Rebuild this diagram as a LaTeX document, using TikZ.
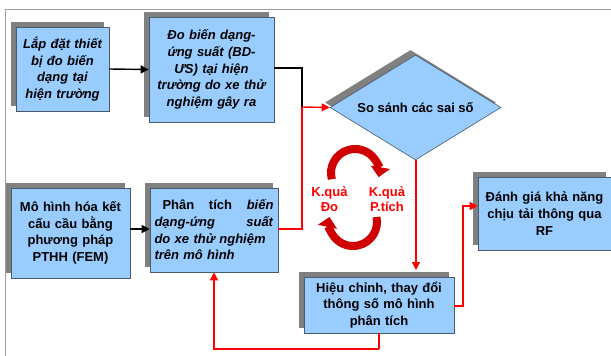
\documentclass[tikz,border=0pt]{standalone}
\usepackage{fontspec}
\setmainfont{Liberation Sans}
\usetikzlibrary{shapes.geometric,shadows,arrows.meta}
\definecolor{boxblue}{HTML}{99CCFF}
\definecolor{shadowgray}{HTML}{808080}
\definecolor{edgegray}{HTML}{4A5A6A}
\definecolor{framegray}{HTML}{A0A0A0}
\definecolor{arrred}{HTML}{D00000}
\begin{document}
\begin{tikzpicture}[x=1pt,y=-1pt,
  box/.style={draw=edgegray, line width=0.6pt, fill=boxblue, align=center,
    font=\bfseries\fontsize{13}{16.7}\selectfont, inner sep=2pt,
    drop shadow={shadow xshift=-5pt, shadow yshift=5pt, opacity=1, fill=shadowgray}},
  dia/.style={box, diamond, shape aspect=1.63, inner sep=0pt},
  blk/.style={draw=black, line width=1.4pt, -{Triangle[length=8pt,width=8pt]}},
  redl/.style={draw=red, line width=1.4pt},
  reda/.style={redl, -{Triangle[length=8pt,width=8pt]}},
  circarr/.style={draw=arrred, line width=8pt, -{Triangle[length=10pt,width=19pt]}},
  lab/.style={text=red, align=center, font=\bfseries\fontsize{13}{15.5}\selectfont}
]
\useasboundingbox (0,0) rectangle (611,356);
\fill[white] (0,0) rectangle (611,356);
\draw[framegray, line width=1pt] (5,356) -- (5,9) -- (611,9);

\node[box, minimum width=91pt, minimum height=84pt, text width=89pt] (b1) at (62.5,69)
  {\itshape Lắp đặt thiết\\ bị đo biến\\ dạng tại\\ hiện trường};
\node[box, minimum width=123pt, minimum height=105pt, text width=121pt] (b2) at (211.5,69.5)
  {\itshape Đo biến dạng-\\ ứng suất (BD-\\ ƯS) tại hiện\\ trường do xe thử\\ nghiệm gây ra};
\node[dia, minimum width=171pt, minimum height=105pt] (d) at (415.5,107.5)
  {So sánh các sai số};
\node[box, minimum width=117pt, minimum height=90pt, text width=115pt] (b3) at (70.5,233)
  {Mô hình hóa kết\\ cấu cầu bằng\\ phương pháp\\ PTHH (FEM)};
\node[box, minimum width=128pt, minimum height=84pt, text width=119pt, align=left] (b4) at (214,230)
  {\hspace*{8pt}Phân\hfill tích\hfill \textit{biến}\\
   \textit{dạng-ứng\hfill suất}\\
   \textit{do xe thử nghiệm}\\
   \textit{trên mô hình}};
\node[box, minimum width=148pt, minimum height=56pt, text width=146pt] (b5) at (379,305)
  {Hiệu chỉnh, thay đổi\\ thông số mô hình\\ phân tích};
\node[box, minimum width=131pt, minimum height=73pt, text width=129pt] (b6) at (544.5,213.5)
  {Đánh giá khả năng\\ chịu tải thông qua\\ RF};

\coordinate (j1) at (302,107);
\coordinate (j2) at (463,306);
\coordinate (j3) at (379,349);

% black connectors
\draw[blk] (b1.east) -- (b2.west);
\draw[blk] (b3.east |- 0,229) -- (b4.west |- 0,229);
\draw[draw=black, line width=1.4pt] (b2.east |- 0,68) -| (j1);

% red connectors
\draw[redl] (b4.east |- 0,229) -| (j1);
\draw[reda] (j1) -- (d.west);
\draw[reda] (416,160) -- (416,270);
\draw[reda] (b5.east |- j2) -- (j2) |- (b6.west |- 0,206);
\draw[reda] (j3) -| (b4.south);
\draw[redl] (b5.south -| j3) -- (j3);

% circular arrows
\draw[circarr] (355,173) ++(165:24) arc[start angle=165, end angle=370, radius=24];
\draw[circarr] (353,222) ++(-12:24) arc[start angle=-12, end angle=192, radius=24];

\node[lab] (k1) at (329.5,199) {K.quả\\Đo};
\node[lab] (k2) at (387,199) {K.quả\\P.tích};
\end{tikzpicture}
\end{document}
